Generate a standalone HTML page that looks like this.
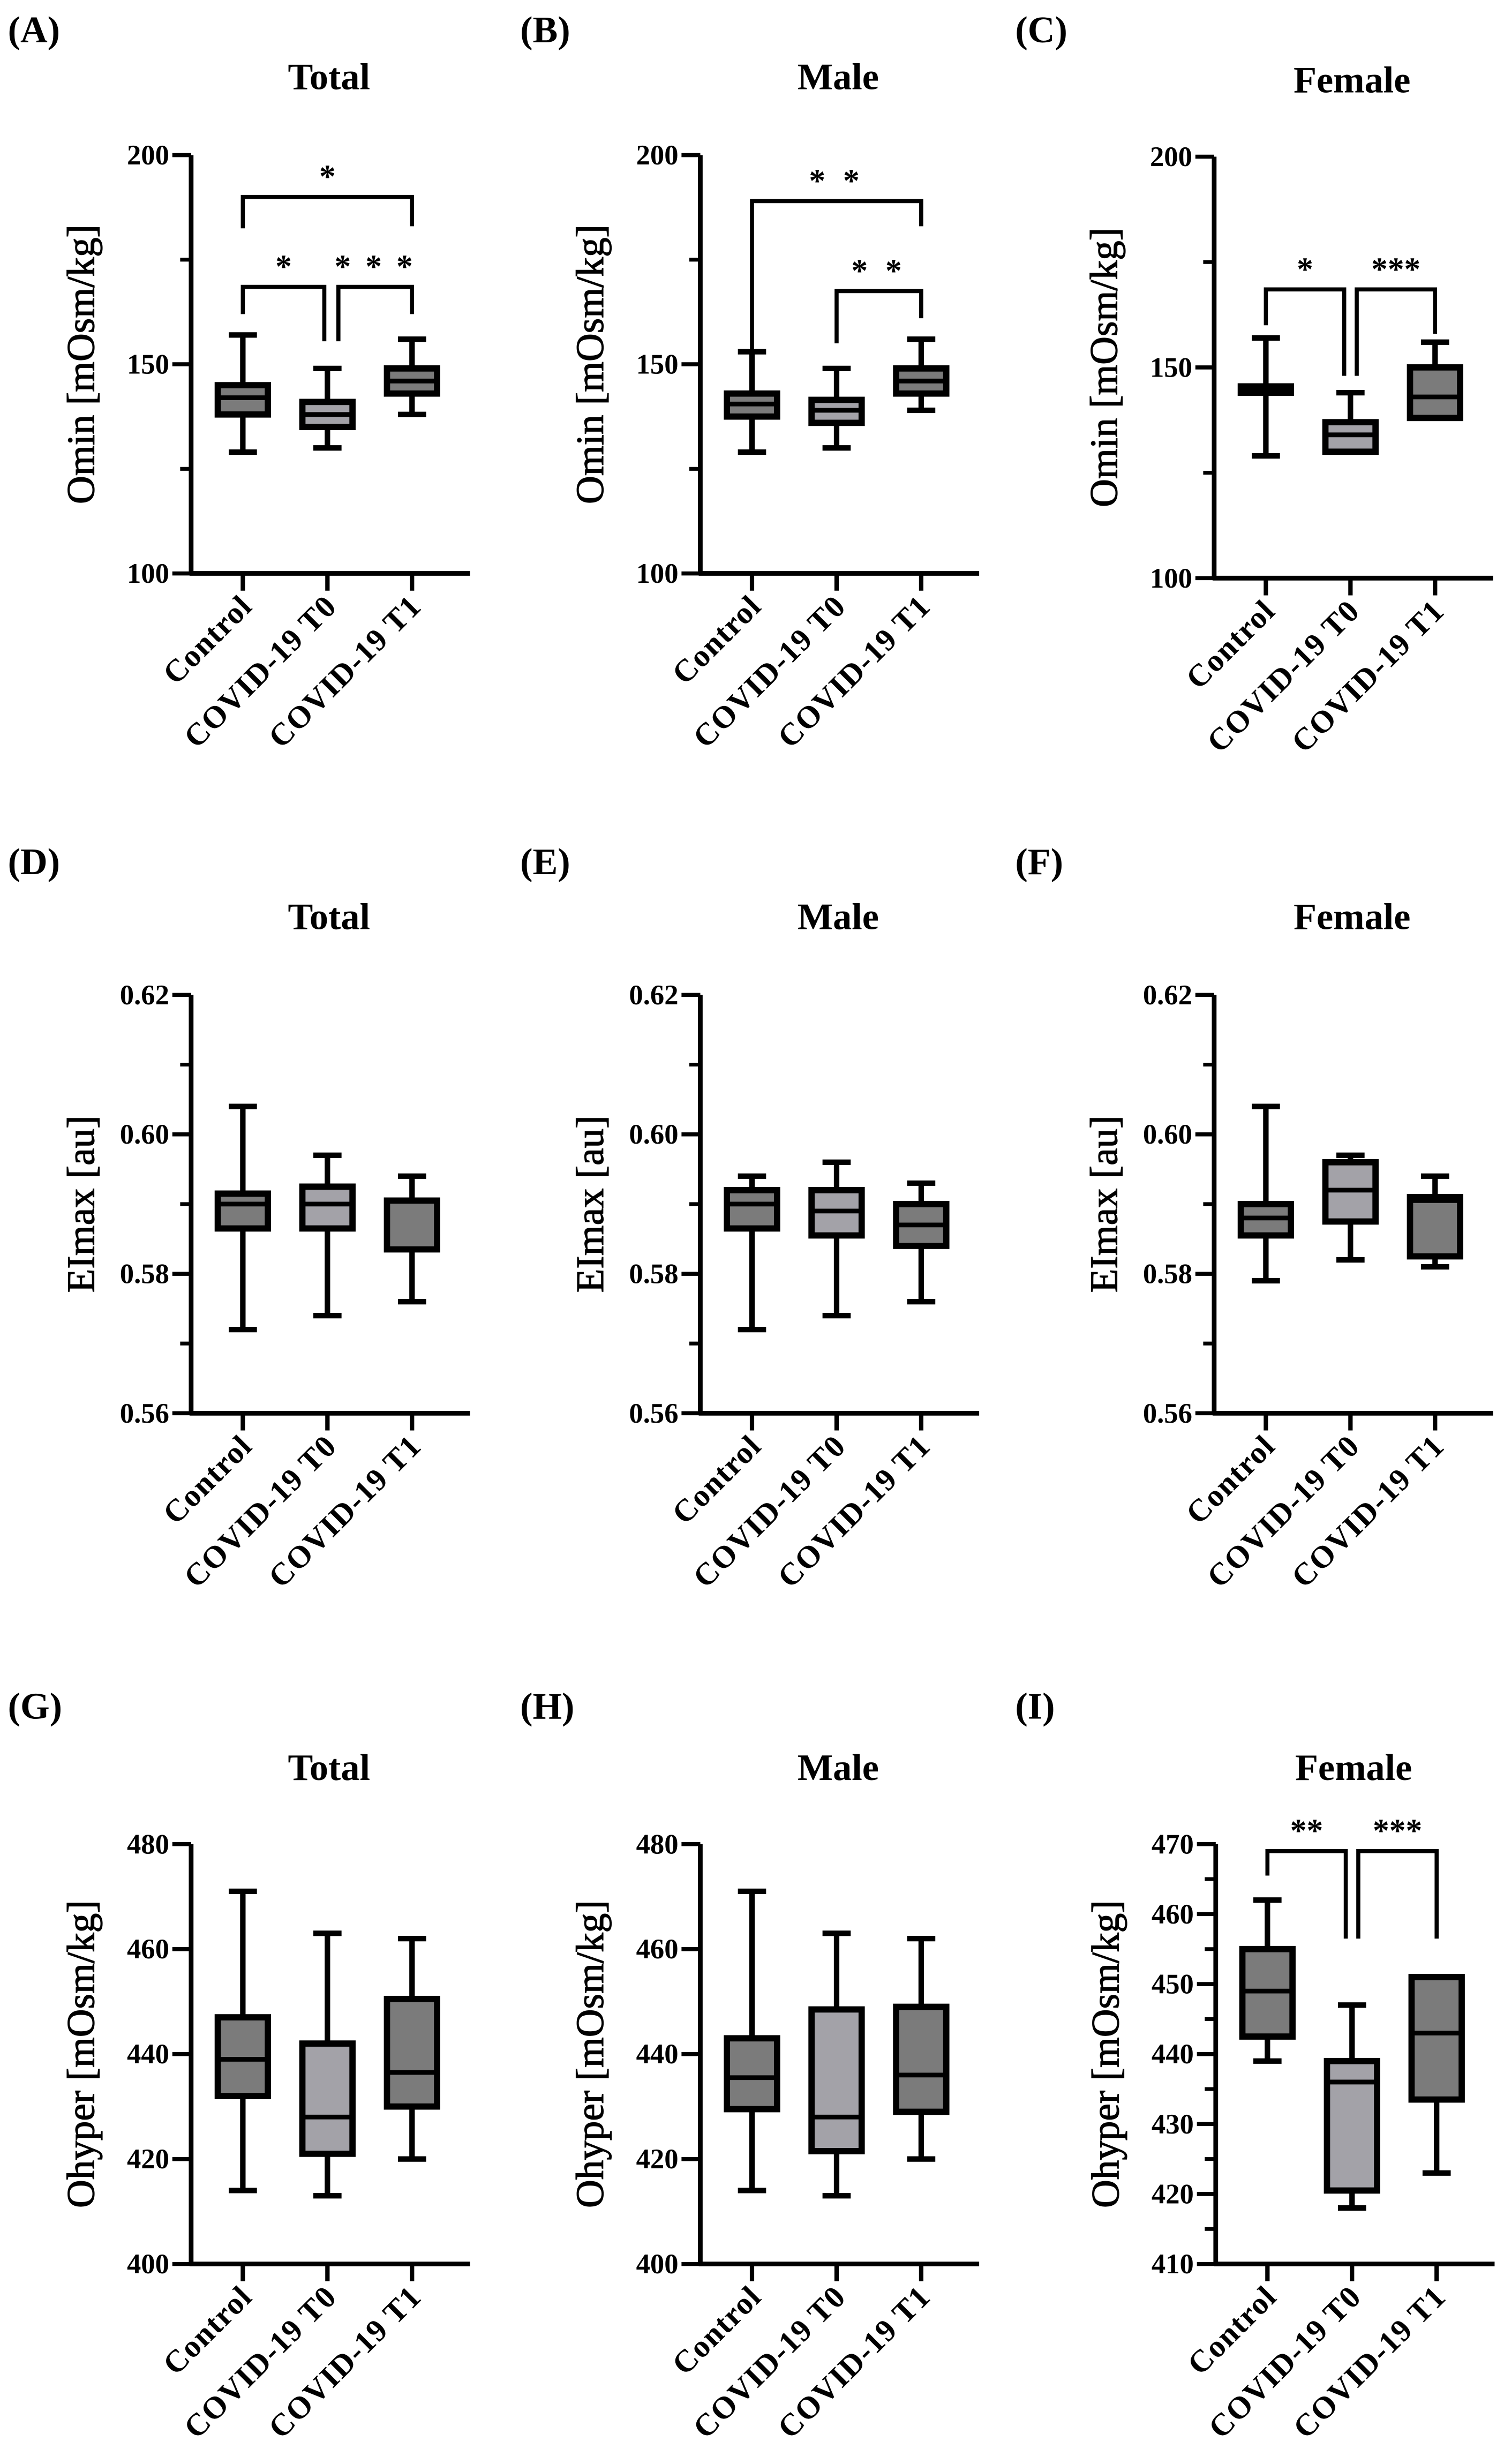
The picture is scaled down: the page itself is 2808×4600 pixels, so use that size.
<!DOCTYPE html>
<html><head><meta charset="utf-8"><style>
html,body{margin:0;padding:0;background:#fff;}
svg{display:block;}
text{font-family:"Liberation Serif",serif;fill:#000;}
</style></head><body>
<svg id="fig" width="2808" height="4600" viewBox="0 0 960 1572.65" xmlns="http://www.w3.org/2000/svg"></svg>
<script>
// ---- data ----
const categories = ["Control", "COVID-19 T0", "COVID-19 T1"];
// Panel A Omin Total
const A_low = [129, 130, 138], A_q1 = [138, 135, 143], A_med = [142, 138, 146], A_q3 = [145, 141, 149], A_high = [157, 149, 156];
// Panel B Omin Male
const B_low = [129, 130, 139], B_q1 = [137.5, 136, 143], B_med = [140.5, 139, 146], B_q3 = [143, 141.5, 149], B_high = [153, 149, 156];
// Panel C Omin Female
const C_low = [129, 130, 138], C_q1 = [144, 130, 138], C_med = [145, 134, 143], C_q3 = [145.5, 137, 150], C_high = [157, 144, 156];
// Panel D EImax Total
const D_low = [0.572, 0.574, 0.576], D_q1 = [0.5865, 0.5865, 0.5835], D_med = [0.590, 0.590, 0.5905], D_q3 = [0.5915, 0.5925, 0.5905], D_high = [0.604, 0.597, 0.594];
// Panel E EImax Male
const E_low = [0.572, 0.574, 0.576], E_q1 = [0.5865, 0.5855, 0.584], E_med = [0.590, 0.589, 0.587], E_q3 = [0.592, 0.592, 0.590], E_high = [0.594, 0.596, 0.593];
// Panel F EImax Female
const F_low = [0.579, 0.582, 0.581], F_q1 = [0.5855, 0.5875, 0.5825], F_med = [0.588, 0.592, 0.5905], F_q3 = [0.590, 0.596, 0.591], F_high = [0.604, 0.597, 0.594];
// Panel G Ohyper Total
const G_low = [414, 413, 420], G_q1 = [432, 421, 430], G_med = [439, 428, 436.5], G_q3 = [447, 442, 450.5], G_high = [471, 463, 462];
// Panel H Ohyper Male
const H_low = [414, 413, 420], H_q1 = [429.5, 421.5, 429], H_med = [435.5, 428, 436], H_q3 = [443, 448.5, 449], H_high = [471, 463, 462];
// Panel I Ohyper Female
const I_low = [439, 418, 423], I_q1 = [442.5, 420.5, 433.5], I_med = [449, 436, 443], I_q3 = [455, 439, 451], I_high = [462, 447, 451];

const ticksOmin = [100, 150, 200];
const ticksEI = [0.56, 0.58, 0.60, 0.62];
const ticksOhyper = [400, 420, 440, 460, 480];
const ticksOhyperF = [410, 420, 430, 440, 450, 460, 470];

const svg = document.getElementById('fig');
const NS = 'http://www.w3.org/2000/svg';
function mk(tag, attrs, parent) {
  const e = document.createElementNS(NS, tag);
  for (const k in attrs) e.setAttribute(k, attrs[k]);
  (parent || svg).appendChild(e);
  return e;
}
const fills = ['#7b7b7b', '#a3a2a8', '#7b7b7b'];

function panel(p) {
  const g = mk('g', {});
  
  
  const y = v => p.yBot - (v - p.min) / (p.max - p.min) * (p.yBot - p.yTop);
  const cx = [p.ax + 33, p.ax + 87, p.ax + 141];
  const lab = mk('text', {x: p.lx, y: p.ly, 'font-size': 24, 'font-weight': 'bold'}, g);
  lab.textContent = '(' + p.id + ')';
  
  
  const t = mk('text', {x: p.ax + 88, y: p.ty, 'font-size': 24, 'font-weight': 'bold', 'text-anchor': 'middle'}, g);
  t.textContent = p.title;
  
  
  const ya = mk('line', {x1: p.ax, y1: p.yTop, x2: p.ax, y2: p.yBot + 1, stroke: '#000', 'stroke-width': 3}, g);
  
  
  const xa = mk('line', {x1: p.ax - 1, y1: p.yBot, x2: p.ax + 178, y2: p.yBot, stroke: '#000', 'stroke-width': 3}, g);
  
  
  p.ticks.forEach((v, i) => {
    mk('line', {x1: p.ax - 12, y1: y(v), x2: p.ax, y2: y(v), stroke: '#000', 'stroke-width': 2.6}, g);
    const tl = mk('text', {x: p.ax - 14, y: y(v) + 6, 'font-size': 18, 'font-weight': 'bold', 'text-anchor': 'end'}, g);
    tl.textContent = p.fmt(v);
    
    
    if (p.minor && i < p.ticks.length - 1) {
      const mv = (v + p.ticks[i + 1]) / 2;
      mk('line', {x1: p.ax - 7, y1: y(mv), x2: p.ax, y2: y(mv), stroke: '#000', 'stroke-width': 2.4}, g);
    }
  });
  const yt = mk('text', {transform: `translate(${p.ax - 62},${(p.yTop + p.yBot) / 2}) rotate(-90)`, 'font-size': 25, 'text-anchor': 'middle', stroke: '#000', 'stroke-width': 0.4}, g);
  yt.textContent = p.ytitle;
  
  
  categories.forEach((c, i) => {
    mk('line', {x1: cx[i], y1: p.yBot, x2: cx[i], y2: p.yBot + 11, stroke: '#000', 'stroke-width': 2.8}, g);
    const xl = mk('text', {transform: `translate(${cx[i] + 7},${p.yBot + 22}) rotate(-45)`, 'font-size': 20, 'font-weight': 'bold', 'text-anchor': 'end', 'letter-spacing': 0.6}, g);
    xl.textContent = c;
    
    
    const bg = mk('g', {}, g);
    
    
    const hw = 16;
    mk('line', {x1: cx[i], y1: y(p.d.high[i]), x2: cx[i], y2: y(p.d.low[i]), stroke: '#000', 'stroke-width': 3.5}, bg);
    mk('line', {x1: cx[i] - 9, y1: y(p.d.high[i]), x2: cx[i] + 9, y2: y(p.d.high[i]), stroke: '#000', 'stroke-width': 3.5}, bg);
    mk('line', {x1: cx[i] - 9, y1: y(p.d.low[i]), x2: cx[i] + 9, y2: y(p.d.low[i]), stroke: '#000', 'stroke-width': 3.5}, bg);
    mk('rect', {x: cx[i] - hw, y: y(p.d.q3[i]), width: 2 * hw, height: Math.max(0.5, y(p.d.q1[i]) - y(p.d.q3[i])), fill: fills[i], stroke: '#000', 'stroke-width': 4}, bg);
    mk('line', {x1: cx[i] - hw, y1: y(p.d.med[i]), x2: cx[i] + hw, y2: y(p.d.med[i]), stroke: '#000', 'stroke-width': 3}, bg);
  });
  (p.sig || []).forEach(s => {
    const sg = mk('g', {}, g);
    
    
    const xa1 = cx[s.a] + (s.da || 0), xb = cx[s.b] + (s.db || 0);
    mk('polyline', {points: `${xa1},${y(s.la)} ${xa1},${y(s.y)} ${xb},${y(s.y)} ${xb},${y(s.lb)}`, fill: 'none', stroke: '#000', 'stroke-width': 2.6}, sg);
    const st = mk('text', {x: (xa1 + xb) / 2, y: y(s.y) - 6, 'font-size': 21, 'font-weight': 'bold', 'text-anchor': 'middle', 'letter-spacing': s.sp || 0}, sg);
    st.textContent = s.t;
  });
}
const f0 = v => String(v), f2 = v => v.toFixed(2);
const cols = [{ax: 122, lx: 5}, {ax: 447, lx: 332}, {ax: 775, lx: 648}];
const row1 = {yTop: 99, yBot: 366, min: 100, max: 200, ticks: ticksOmin, fmt: f0, minor: true, ty: 57, ly: 27, ytitle: 'Omin [mOsm/kg]'};
const row2 = {yTop: 635, yBot: 902, min: 0.56, max: 0.62, ticks: ticksEI, fmt: f2, minor: true, ty: 593, ly: 558, ytitle: 'EImax [au]'};
const row3 = {yTop: 1177, yBot: 1445, min: 400, max: 480, ticks: ticksOhyper, fmt: f0, minor: false, ty: 1136, ly: 1097, ytitle: 'Ohyper [mOsm/kg]'};
function D(l, q1, m, q3, h) { return {low: l, q1: q1, med: m, q3: q3, high: h}; }

panel(Object.assign({}, row1, cols[0], {id: 'A', title: 'Total', d: D(A_low, A_q1, A_med, A_q3, A_high), sig: [
  {a: 0, b: 2, y: 190, la: 182.5, lb: 183, t: '*'},
  {a: 0, b: 1, db: -2, y: 168.5, la: 162, lb: 155.5, t: '*'},
  {a: 1, b: 2, da: 7, y: 168.5, la: 155.5, lb: 162, t: '* * *', sp: 2}]}));
panel(Object.assign({}, row1, cols[1], {id: 'B', title: 'Male', d: D(B_low, B_q1, B_med, B_q3, B_high), sig: [
  {a: 0, b: 2, y: 189, la: 153, lb: 183, t: '* *', sp: 3},
  {a: 1, b: 2, y: 167.5, la: 155, lb: 161, t: '* *', sp: 3}]}));
panel(Object.assign({}, row1, cols[2], {yTop: 100, yBot: 369, ty: 59, id: 'C', title: 'Female', d: D(C_low, C_q1, C_med, C_q3, C_high), sig: [
  {a: 0, b: 1, db: -4, y: 168.5, la: 160, lb: 148, t: '*'},
  {a: 1, b: 2, da: 4, y: 168.5, la: 148, lb: 158, t: '***'}]}));
panel(Object.assign({}, row2, cols[0], {id: 'D', title: 'Total', d: D(D_low, D_q1, D_med, D_q3, D_high)}));
panel(Object.assign({}, row2, cols[1], {id: 'E', title: 'Male', d: D(E_low, E_q1, E_med, E_q3, E_high)}));
panel(Object.assign({}, row2, cols[2], {id: 'F', title: 'Female', d: D(F_low, F_q1, F_med, F_q3, F_high)}));
panel(Object.assign({}, row3, cols[0], {id: 'G', title: 'Total', d: D(G_low, G_q1, G_med, G_q3, G_high)}));
panel(Object.assign({}, row3, cols[1], {id: 'H', title: 'Male', d: D(H_low, H_q1, H_med, H_q3, H_high)}));
panel(Object.assign({}, row3, cols[2], {ax: 776, min: 410, max: 470, ticks: ticksOhyperF, id: 'I', title: 'Female', d: D(I_low, I_q1, I_med, I_q3, I_high), minor: true, sig: [
  {a: 0, b: 1, db: -4, y: 469, la: 465.5, lb: 456.5, t: '**'},
  {a: 1, b: 2, da: 4, y: 469, la: 456.5, lb: 456.5, t: '***'}]}));
</script>
</body></html>
